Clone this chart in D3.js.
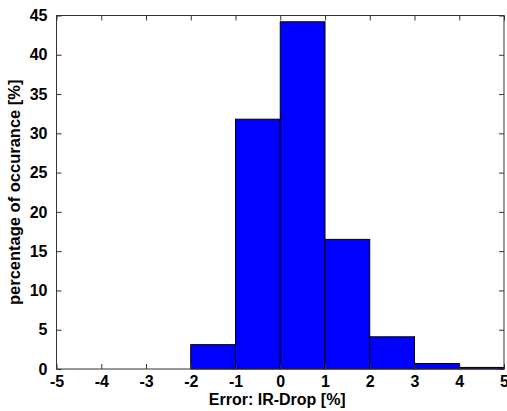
<!DOCTYPE html>
<html>
<head>
<meta charset="utf-8">
<script src="https://cdn.jsdelivr.net/npm/d3@7"></script>
<style>
  body { margin: 0; background: #fff; }
  svg text { font-family: "Liberation Sans", Arial, sans-serif; font-weight: bold; fill: #000; }
</style>
</head>
<body>
<svg id="chart" width="507" height="411"></svg>
<script>
// histogram bins (edges) and heights in percent
var binStart = [-2, -1, 0, 1, 2, 3, 4];
var binEnd   = [-1,  0, 1, 2, 3, 4, 5];
var percent  = [3.1, 31.8, 44.2, 16.5, 4.1, 0.7, 0.2];

var xTicks = [-5, -4, -3, -2, -1, 0, 1, 2, 3, 4, 5];
var yTicks = [0, 5, 10, 15, 20, 25, 30, 35, 40, 45];

var svg = d3.select("#chart");
var margin = {left: 56.5, right: 3, top: 15.5, bottom: 42},
    width  = +svg.attr("width")  - margin.left - margin.right,
    height = +svg.attr("height") - margin.top  - margin.bottom;

var x = d3.scaleLinear().domain([-5, 5]).range([0, width]);
var y = d3.scaleLinear().domain([0, 45]).range([height, 0]);

var g = svg.append("g")
    .attr("transform", "translate(" + margin.left + "," + margin.top + ")");

var bins = binStart.map(function(d, i){ return [d, binEnd[i], percent[i]]; });

g.selectAll("rect.bar")
    .data(bins)
    .enter()
    .append("rect")
      .attr("class", "bar")
      .attr("x", function(d){ return x(d[0]); })
      .attr("y", function(d){ return y(d[2]); })
      .attr("width", function(d){ return x(d[1]) - x(d[0]); })
      .attr("height", function(d){ return height - y(d[2]); })
      .attr("fill", "#0000ff")
      .attr("stroke", "#000")
      .attr("stroke-width", 1);

// plain hyphen minus like matlab
var fmt = function(d){ return String(d); };

// box with inward ticks, matlab style
var axisColor = "#333";
function styleAxis(sel, showLabels){
    sel.select(".domain").remove();
    sel.selectAll(".tick line").attr("stroke", axisColor);
    sel.selectAll(".tick text")
        .style("font-size", "16px")
        .attr("display", showLabels ? null : "none");
}

g.append("g")
    .attr("transform", "translate(0," + height + ")")
    .call(d3.axisBottom(x).tickValues(xTicks).tickFormat(fmt).tickSizeInner(-5).tickSizeOuter(0).tickPadding(7))
    .call(styleAxis, true);

g.append("g")
    .call(d3.axisTop(x).tickValues(xTicks).tickSizeInner(-5).tickSizeOuter(0))
    .call(styleAxis, false);

g.append("g")
    .call(d3.axisLeft(y).tickValues(yTicks).tickFormat(fmt).tickSizeInner(-5).tickSizeOuter(0).tickPadding(9))
    .call(styleAxis, true);

g.append("g")
    .attr("transform", "translate(" + width + ",0)")
    .call(d3.axisRight(y).tickValues(yTicks).tickSizeInner(-5).tickSizeOuter(0))
    .call(styleAxis, false);

g.append("rect")
    .attr("width", width)
    .attr("height", height)
    .attr("fill", "none")
    .attr("stroke", axisColor)
    .attr("stroke-width", 1);

g.append("text")
    .attr("x", width / 2 - 3)
    .attr("y", height + 36)
    .attr("text-anchor", "middle")
    .style("font-size", "16px")
    .text("Error: IR-Drop [%]");

g.append("text")
    .attr("transform", "translate(" + (-37) + "," + (height / 2) + ") rotate(-90)")
    .attr("text-anchor", "middle")
    .style("font-size", "16.5px")
    .text("percentage of occurance [%]");
</script>
</body>
</html>
